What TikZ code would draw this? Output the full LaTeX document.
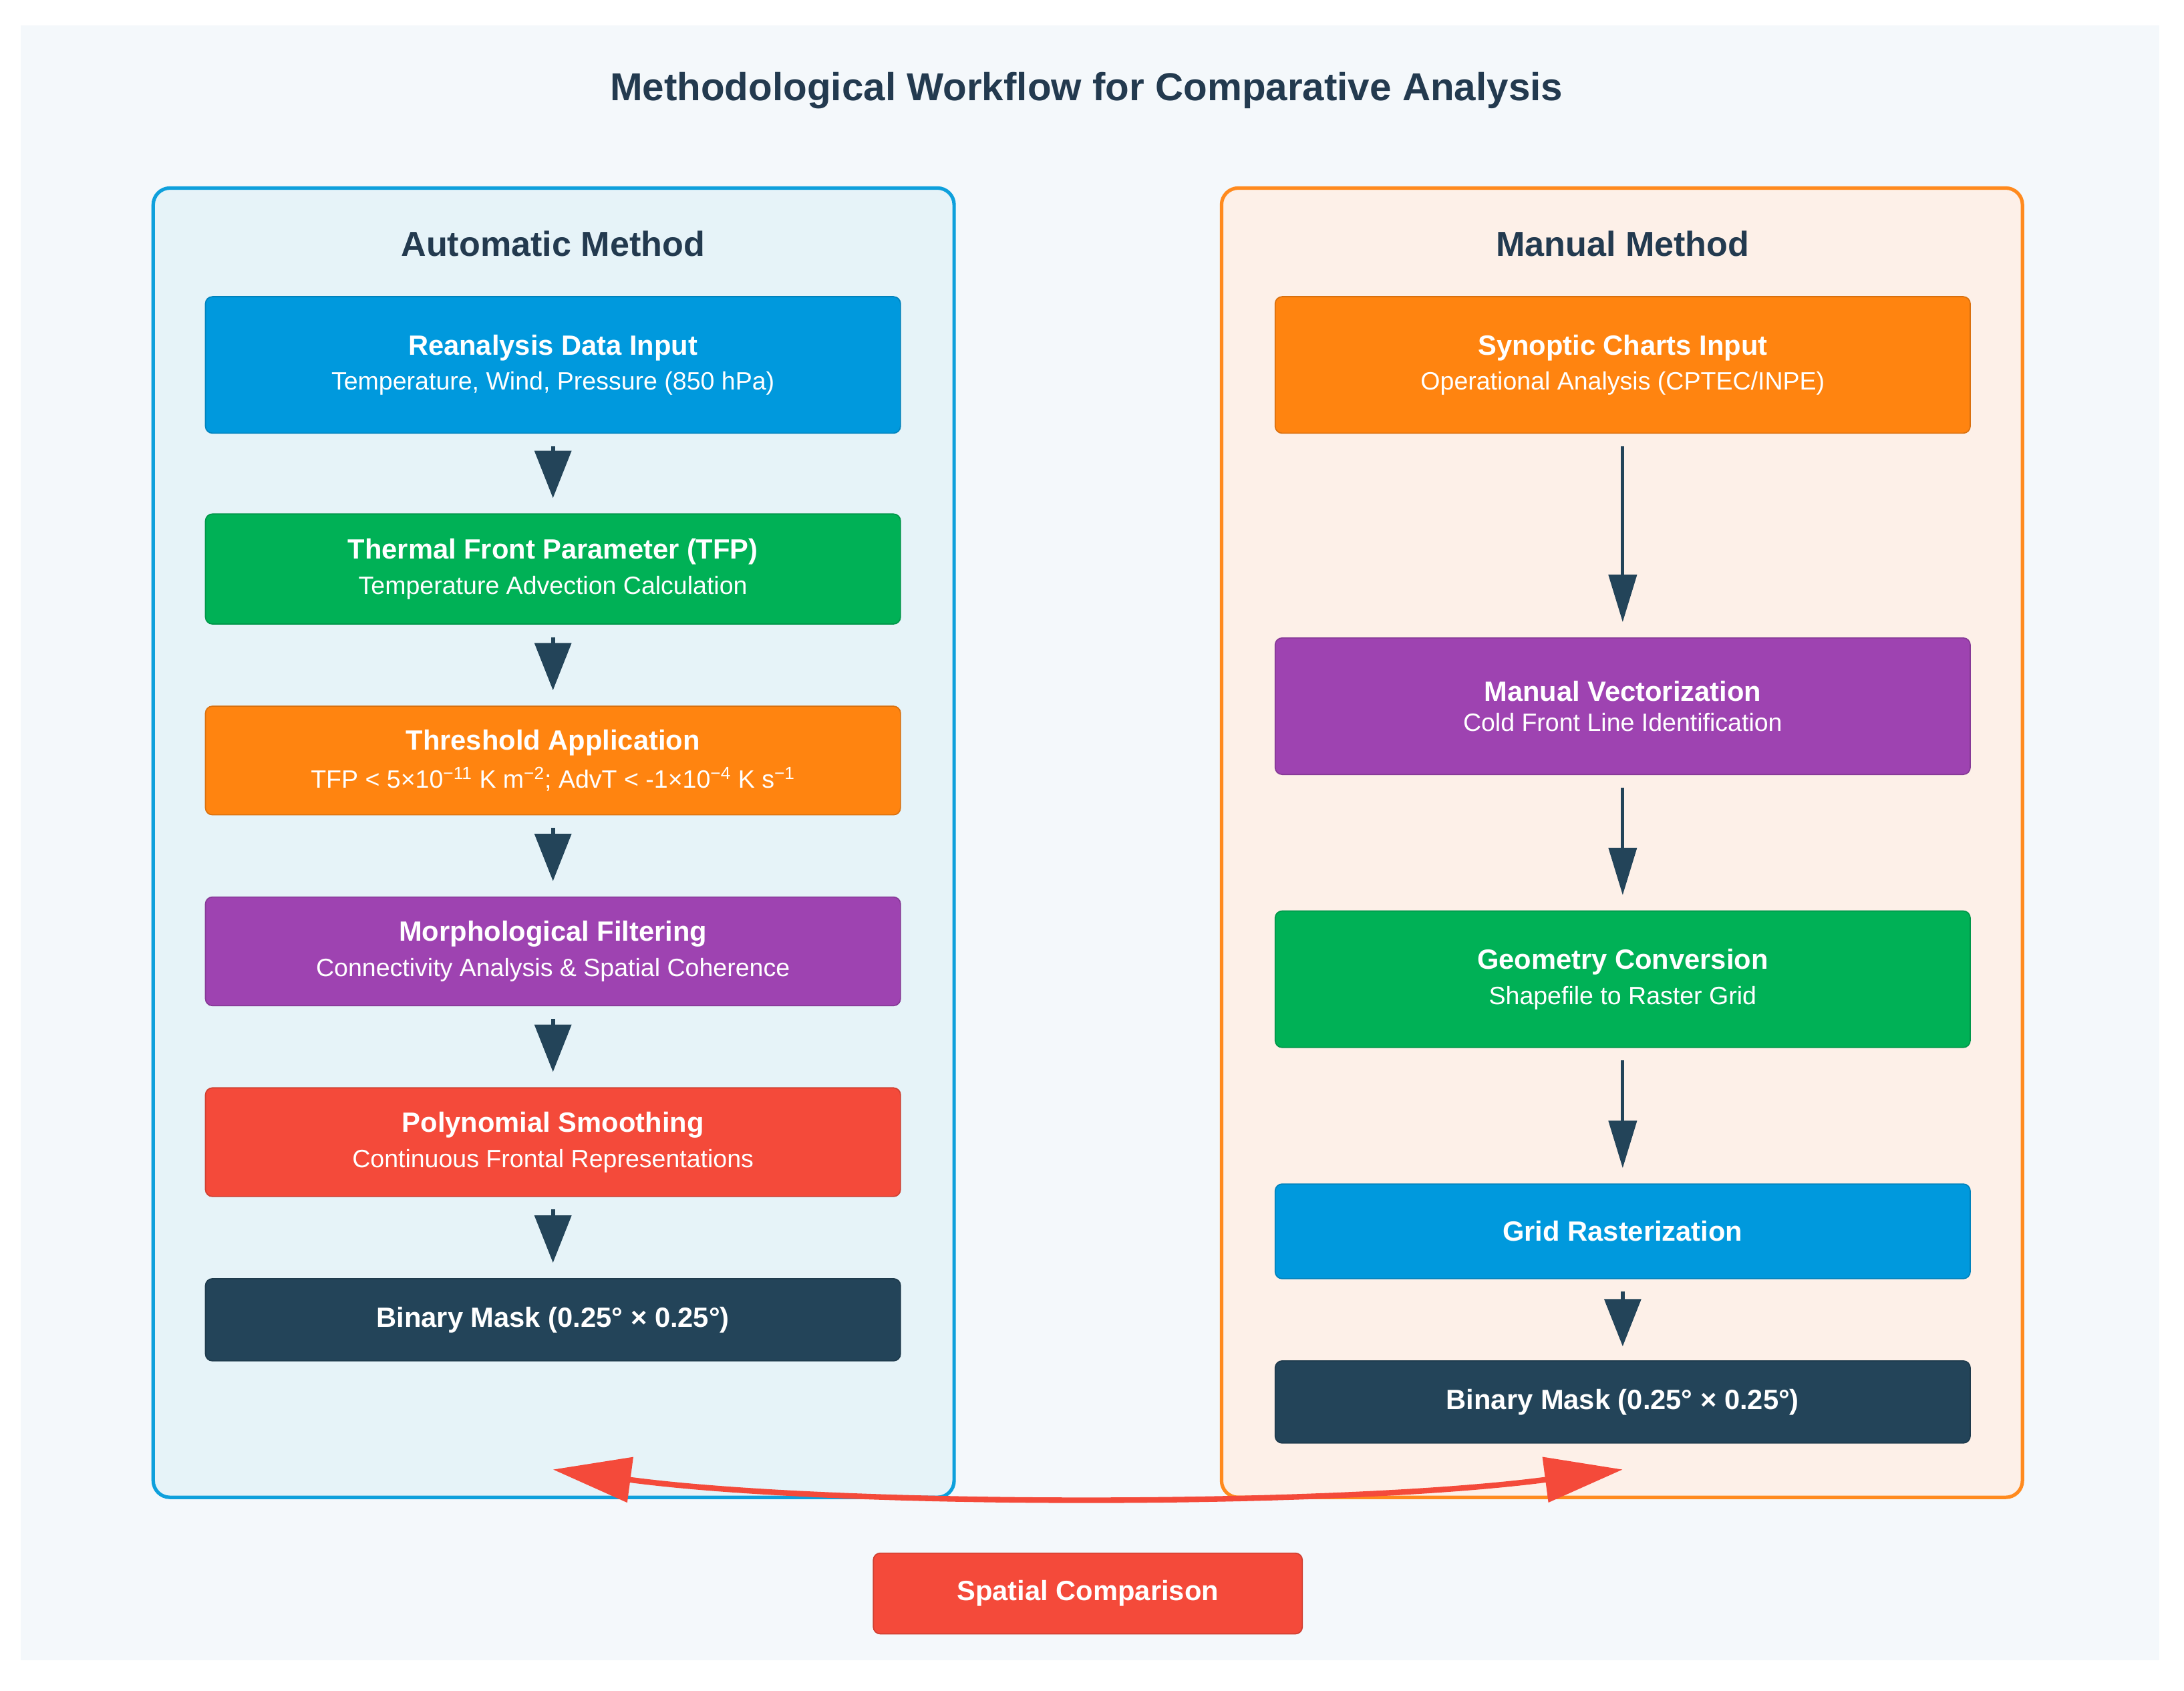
\documentclass[tikz,border=0pt]{standalone}
\usepackage{fontspec}
\setmainfont{Liberation Sans}
\usetikzlibrary{arrows.meta}
\definecolor{bg}{HTML}{F4F8FB}
\definecolor{cblue}{HTML}{0099DD}
\definecolor{cgreen}{HTML}{00B156}
\definecolor{corange}{HTML}{FF8410}
\definecolor{cpurple}{HTML}{9E43B1}
\definecolor{cred}{HTML}{F44A3A}
\definecolor{cdark}{HTML}{234459}
\definecolor{lpanel}{HTML}{E6F3F8}
\definecolor{rpanel}{HTML}{FDF0E8}
\definecolor{lborder}{HTML}{0EA0DC}
\definecolor{rborder}{HTML}{FF8A1E}
\definecolor{txt}{HTML}{233A4F}
\begin{document}
\begin{tikzpicture}[x=1pt,y=-1pt,
  box/.style={rounded corners=5pt,minimum width=499pt,text=white,align=center,inner sep=0pt,draw=#1!85!black,line width=0.8pt,fill=#1},
  ttl/.style={font=\bfseries\fontsize{20}{24}\selectfont},
  arrL/.style={draw=cdark,line width=3pt,-{Triangle[width=26pt,length=34pt]}},
  arrR/.style={draw=cdark,line width=2.5pt,-{Triangle[width=20pt,length=34pt]}},
  panel/.style={rounded corners=12pt,line width=2.5pt}]
\useasboundingbox (0,0) rectangle (1568,1214);
\fill[white] (0,0) rectangle (1568,1214);
\fill[bg] (15,18) rectangle (1550,1192);
\node[text=txt,font=\bfseries\fontsize{28}{32}\selectfont] (title) at (780,65) {Methodological Workflow for Comparative Analysis};
\draw[panel,draw=lborder,fill=lpanel] (110,135) rectangle (685,1075);
\draw[panel,draw=rborder,fill=rpanel] (877,135) rectangle (1452,1075);
\node[text=txt,font=\bfseries\fontsize{25}{30}\selectfont] (hl) at (397,175) {Automatic Method};
\node[text=txt,font=\bfseries\fontsize{25}{30}\selectfont] (hr) at (1165,175) {Manual Method};
\newcommand\twol[2]{{\bfseries\fontsize{20}{24}\selectfont #1}\\[7pt]{\fontsize{18}{22}\selectfont #2}}
% left
\node[box=cblue,minimum height=98pt] (l1) at (397,262) {\twol{Reanalysis Data Input}{Temperature, Wind, Pressure (850 hPa)}};
\node[box=cgreen,minimum height=79pt] (l2) at (397,408.5) {\twol{Thermal Front Parameter (TFP)}{Temperature Advection Calculation}};
\node[box=corange,minimum height=78pt] (l3) at (397,546) {\twol{Threshold Application}{TFP < 5×10\textsuperscript{−11} K m\textsuperscript{−2}; AdvT < -1×10\textsuperscript{−4} K s\textsuperscript{−1}}};
\node[box=cpurple,minimum height=78pt] (l4) at (397,683) {\twol{Morphological Filtering}{Connectivity Analysis \& Spatial Coherence}};
\node[box=cred,minimum height=78pt] (l5) at (397,820) {\twol{Polynomial Smoothing}{Continuous Frontal Representations}};
\node[box=cdark,minimum height=59pt,ttl] (l6) at (397,947.5) {Binary Mask (0.25° × 0.25°)};
\foreach \a/\b in {l1/l2,l2/l3,l3/l4,l4/l5,l5/l6}
  \draw[arrL] ([yshift=-9pt]\a.south) -- ([yshift=11pt]\b.north);
% right
\node[box=corange,minimum height=98pt] (r1) at (1165,262) {\twol{Synoptic Charts Input}{Operational Analysis (CPTEC/INPE)}};
\node[box=cpurple,minimum height=98pt] (r2) at (1165,507) {\twol{Manual Vectorization}{Cold Front Line Identification}};
\node[box=cgreen,minimum height=98pt] (r3) at (1165,703) {\twol{Geometry Conversion}{Shapefile to Raster Grid}};
\node[box=cblue,minimum height=68pt,ttl] (r4) at (1165,884) {Grid Rasterization};
\node[box=cdark,minimum height=59pt,ttl] (r5) at (1165,1006.5) {Binary Mask (0.25° × 0.25°)};
\foreach \a/\b in {r1/r2,r2/r3,r3/r4}
  \draw[arrR] ([yshift=-9pt]\a.south) -- ([yshift=11pt]\b.north);
\draw[arrL] ([yshift=-9pt]r4.south) -- ([yshift=10pt]r5.north);
% comparison
\coordinate (cl) at (397,1055);
\coordinate (cr) at (1165,1055);
\draw[draw=cred,line width=4pt,{Triangle[width=32pt,length=56pt]}-{Triangle[width=32pt,length=56pt]}] (cl) .. controls (600,1082) and (960,1082) .. (cr);
\node[box=cred,minimum width=308pt,minimum height=58pt,ttl] (sc) at (781,1144) {Spatial Comparison};
\end{tikzpicture}
\end{document}
